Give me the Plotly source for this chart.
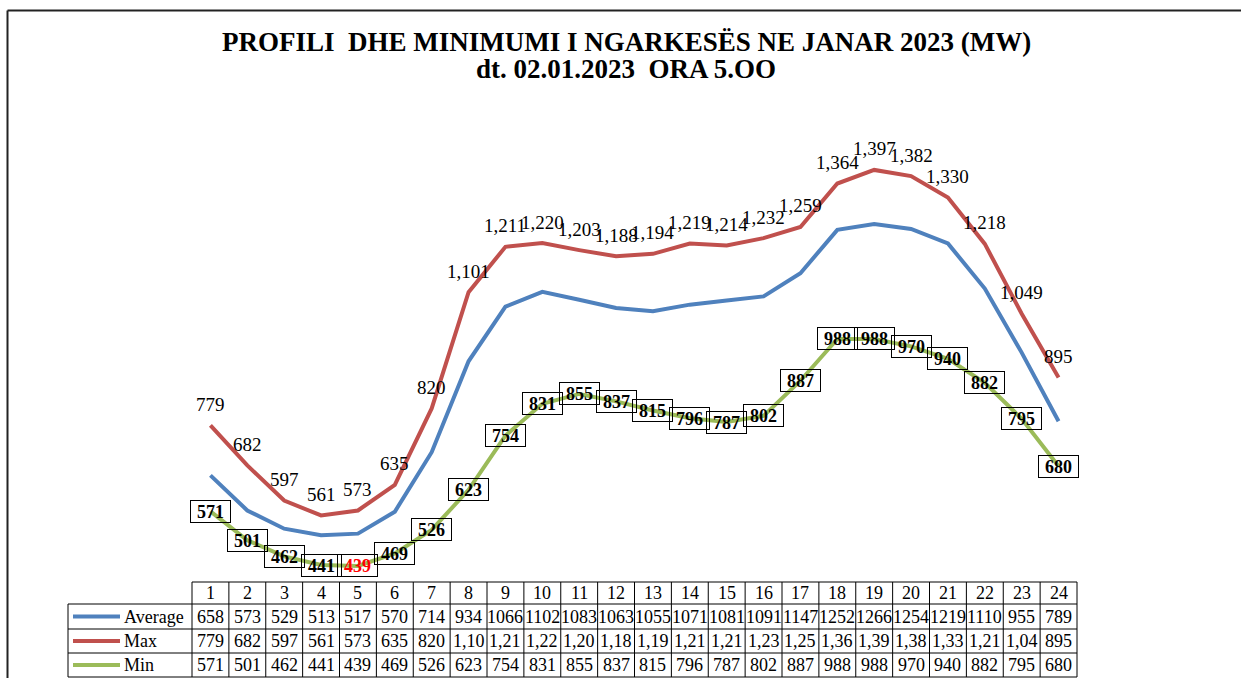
import plotly.graph_objects as go

hours = list(range(1, 25))
average = [658, 573, 529, 513, 517, 570, 714, 934, 1066, 1102, 1083, 1063, 1055, 1071, 1081, 1091,
           1147, 1252, 1266, 1254, 1219, 1110, 955, 789]
maximum = [779, 682, 597, 561, 573, 635, 820, 1101, 1211, 1220, 1203, 1188, 1194, 1219, 1214, 1232,
           1259, 1364, 1397, 1382, 1330, 1218, 1049, 895]
minimum = [571, 501, 462, 441, 439, 469, 526, 623, 754, 831, 855, 837, 815, 796, 787, 802,
           887, 988, 988, 970, 940, 882, 795, 680]
series_names = ["Average", "Max", "Min"]
colors = ["#4F81BD", "#C0504D", "#9BBB59"]
title1 = "PROFILI  DHE MINIMUMI I NGARKESËS NE JANAR 2023 (MW)"
title2 = "dt. 02.01.2023  ORA 5.OO"

W, H = 1241, 678
FONT = "Times New Roman, Liberation Serif, DejaVu Serif, serif"


def px(x):
    return x / W


def py(y):
    return 1 - y / H


# plot area in pixels
X0, X1 = 192, 1077
Y_TOP, Y_BOT = 86, 582

fig = go.Figure()
for name, vals, col in zip(series_names, [average, maximum, minimum], colors):
    fig.add_trace(go.Scatter(x=hours, y=vals, mode="lines", name=name,
                             line=dict(color=col, width=4), showlegend=False))

annotations = []
# Max labels
for h, v in zip(hours, maximum):
    annotations.append(dict(x=h, y=v, xref="x", yref="y", text=f"{v:,}", showarrow=False,
                            yshift=21, xanchor="center", yanchor="middle",
                            font=dict(family=FONT, size=19, color="black")))
# Min labels (boxed, bold)
min_val = min(minimum)
for h, v in zip(hours, minimum):
    annotations.append(dict(x=h, y=v, xref="x", yref="y", text=f"<b>{v}</b>", showarrow=False,
                            width=37, height=19, borderpad=1, bordercolor="black", borderwidth=1,
                            xanchor="center", yanchor="middle",
                            font=dict(family=FONT, size=18, color="red" if v == min_val else "black")))

# titles
annotations.append(dict(x=px(626), y=py(42), xref="paper", yref="paper", text=f"<b>{title1}</b>",
                        showarrow=False, xanchor="center", yanchor="middle",
                        font=dict(family=FONT, size=27, color="black")))
annotations.append(dict(x=px(626), y=py(69), xref="paper", yref="paper", text=f"<b>{title2}</b>",
                        showarrow=False, xanchor="center", yanchor="middle",
                        font=dict(family=FONT, size=27, color="black")))

# data table
row_edges = [582, 604, 629, 653, 677]
col_w = (X1 - X0) / 24
row_vals = [
    [str(v) for v in average],
    [f"{v:,}"[:4] for v in maximum],
    [str(v) for v in minimum],
]
for h in hours:
    annotations.append(dict(x=h, y=py((row_edges[0] + row_edges[1]) / 2), xref="x", yref="paper",
                            text=str(h), showarrow=False, xanchor="center", yanchor="middle",
                            font=dict(family=FONT, size=18, color="black")))
for r, texts in enumerate(row_vals):
    yc = py((row_edges[r + 1] + row_edges[r + 2]) / 2)
    for h, t in zip(hours, texts):
        annotations.append(dict(x=h, y=yc, xref="x", yref="paper", text=t, showarrow=False,
                                xanchor="center", yanchor="middle",
                                font=dict(family=FONT, size=18, color="black")))
    annotations.append(dict(x=px(122), y=yc, xref="paper", yref="paper", text=series_names[r],
                            showarrow=False, xanchor="left", yanchor="middle",
                            font=dict(family=FONT, size=18, color="black")))

shapes = []
line_style = dict(color="black", width=1)
# horizontal lines
shapes.append(dict(type="line", xref="paper", yref="paper", x0=px(X0), x1=px(X1),
                   y0=py(row_edges[0]), y1=py(row_edges[0]), line=line_style))
for y in row_edges[1:]:
    shapes.append(dict(type="line", xref="paper", yref="paper", x0=px(68), x1=px(X1),
                       y0=py(y), y1=py(y), line=line_style))
# vertical lines
for k in range(25):
    x = X0 + k * col_w
    shapes.append(dict(type="line", xref="paper", yref="paper", x0=px(x), x1=px(x),
                       y0=py(row_edges[0]), y1=py(row_edges[-1]), line=line_style))
shapes.append(dict(type="line", xref="paper", yref="paper", x0=px(68), x1=px(68),
                   y0=py(row_edges[1]), y1=py(row_edges[-1]), line=line_style))
# legend keys
for r, col in enumerate(colors):
    yc = py((row_edges[r + 1] + row_edges[r + 2]) / 2)
    shapes.append(dict(type="line", xref="paper", yref="paper", x0=px(73), x1=px(120),
                       y0=yc, y1=yc, line=dict(color=col, width=4)))
# outer chart border (left and top)
shapes.append(dict(type="line", xref="paper", yref="paper", x0=px(7.5), x1=px(7.5),
                   y0=py(10.5), y1=py(H), line=dict(color="#222", width=2)))
shapes.append(dict(type="line", xref="paper", yref="paper", x0=px(7.5), x1=1,
                   y0=py(10.5), y1=py(10.5), line=dict(color="#222", width=2)))

fig.update_layout(
    width=W, height=H,
    margin=dict(l=0, r=0, t=0, b=0),
    paper_bgcolor="white", plot_bgcolor="white",
    font=dict(family=FONT),
    xaxis=dict(range=[0.5, 24.5], domain=[px(X0), px(X1)], visible=False, fixedrange=True),
    yaxis=dict(range=[400, 1600], domain=[py(Y_BOT), py(Y_TOP)], visible=False, fixedrange=True),
    annotations=annotations,
    shapes=shapes,
    showlegend=False,
)

fig.write_html("out.html", config={"displayModeBar": False},
               post_script="document.body.style.margin='0';document.body.style.overflow='hidden';")
